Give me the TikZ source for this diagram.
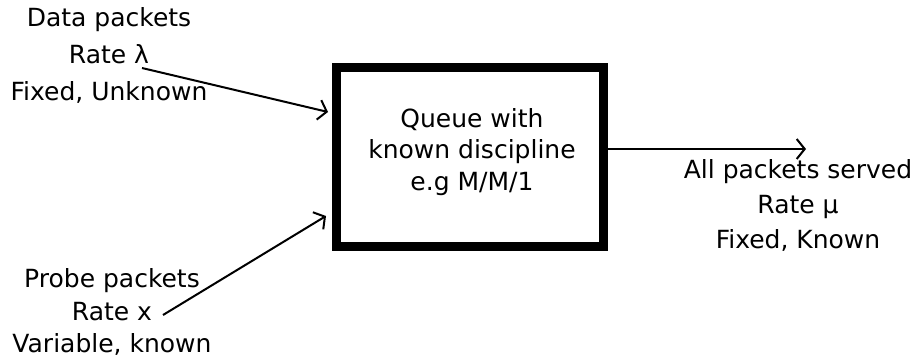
\documentclass[tikz,border=0pt]{standalone}
\usepackage{fontspec}
\setmainfont{DejaVu Sans}
\usetikzlibrary{arrows.meta}
\begin{document}
\begin{tikzpicture}[x=1pt,y=1pt,
  lbl/.style={align=center,inner sep=0pt},
  conn/.style={line width=2pt,-{Straight Barb[length=8pt,width=20pt,line width=2pt]}}]
\useasboundingbox (0,0) rectangle (913,357);
\fill[white] (0,0) rectangle (913,357);
\node[draw,line width=8.5pt,minimum width=267pt,minimum height=179pt,inner sep=0pt] (box) at (470,200) {};
\node[lbl,font=\fontsize{25}{31.5}\selectfont] (boxtxt) at (472,205) {Queue with\\known discipline\\e.g M/M/1};
\node[lbl,font=\fontsize{25}{37}\selectfont] (data) at (109,302) {Data packets\\Rate λ\\Fixed, Unknown};
\node[lbl,font=\fontsize{25}{32.5}\selectfont] (probe) at (112,45) {Probe packets\\Rate x\\Variable, known};
\node[lbl,font=\fontsize{25}{35}\selectfont] (out) at (798,152) {All packets served\\Rate μ\\Fixed, Known};
\coordinate (a1s) at (142,289);
\coordinate (a1e) at (328,245);
\coordinate (a2s) at (163,42);
\coordinate (a2e) at (326,141);
\coordinate (a3s) at (604,208);
\coordinate (a3e) at (806,208);
\draw[conn] (a1s) -- (a1e);
\draw[conn] (a2s) -- (a2e);
\draw[conn] (a3s) -- (a3e);
\end{tikzpicture}
\end{document}
